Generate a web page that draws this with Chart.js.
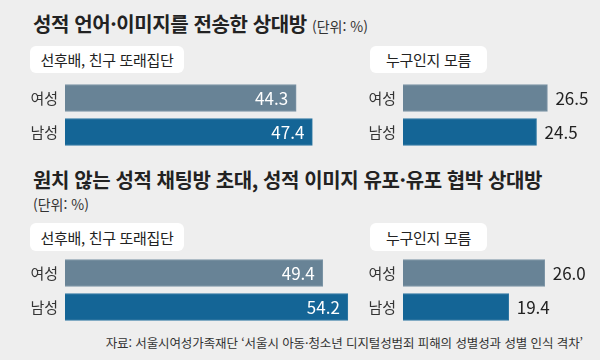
<!DOCTYPE html>
<html lang="ko">
<head>
<meta charset="utf-8">
<script src="https://cdn.jsdelivr.net/npm/chart.js@4.4.1/dist/chart.umd.min.js"></script>
<style>
  html, body { margin: 0; padding: 0; }
  body { width: 600px; height: 360px; background: #eeeeee; position: relative; overflow: hidden;
         font-family: "Noto Sans CJK KR", "Noto Sans", sans-serif; color: #222; }
  .abs { position: absolute; white-space: nowrap; }
  .title { font-size: 20px; font-weight: bold; letter-spacing: -0.4px; color: #222; }
  .unit { font-size: 14px; color: #333; letter-spacing: 0; }
  .pill { background: #fff; border-radius: 6px; font-size: 15px; color: #222;
          display: flex; align-items: center; justify-content: center; letter-spacing: -0.3px; }
  .src { font-size: 12.5px; color: #333; letter-spacing: -0.1px; }
  .box { position: absolute; height: 68px; }
</style>
</head>
<body>
<div class="abs title" style="left:33px; top:9px;">성적 언어·이미지를 전송한 상대방 <span class="unit" style="font-weight:normal;">(단위: %)</span></div>
<div class="abs pill" style="left:30px; top:46px; width:154px; height:27px;">선후배, 친구 또래집단</div>
<div class="abs pill" style="left:370px; top:46px; width:117px; height:27px;">누구인지 모름</div>

<div class="abs title" style="left:33px; top:165px;">원치 않는 성적 채팅방 초대, 성적 이미지 유포·유포 협박 상대방</div>
<div class="abs unit" style="left:33px; top:194px;">(단위: %)</div>
<div class="abs pill" style="left:30px; top:223px; width:154px; height:28px;">선후배, 친구 또래집단</div>
<div class="abs pill" style="left:370px; top:223px; width:117px; height:28px;">누구인지 모름</div>

<div class="abs src" style="right:17px; top:333px;">자료: 서울시여성가족재단 ‘서울시 아동·청소년 디지털성범죄 피해의 성별성과 성별 인식 격차’</div>

<div class="box" style="left:25px; top:81px; width:327px;"><canvas id="c1"></canvas></div>
<div class="box" style="left:363px; top:81px; width:237px;"><canvas id="c2"></canvas></div>
<div class="box" style="left:25px; top:256px; width:327px;"><canvas id="c3"></canvas></div>
<div class="box" style="left:363px; top:256px; width:237px;"><canvas id="c4"></canvas></div>

<script>
// 데이터
const genders = ['여성', '남성'];
const peerSent = [44.3, 47.4];       // 성적 언어·이미지 전송 - 또래집단
const unknownSent = [26.5, 24.5];    // 성적 언어·이미지 전송 - 누구인지 모름
const peerInvite = [49.4, 54.2];     // 채팅방 초대/유포 - 또래집단
const unknownInvite = [26.0, 19.4];  // 채팅방 초대/유포 - 누구인지 모름

const barColors = ['#688396', '#146596'];
const barBorders = ['#7d95a6', '#2f78a3'];

// 막대 끝에 값 표시
const valueLabels = {
    id: 'valueLabels',
    afterDatasetsDraw(chart, args, opts) {
        const ctx = chart.ctx;
        const meta = chart.getDatasetMeta(0);
        ctx.save();
        ctx.font = '17px "Noto Sans CJK KR", "Noto Sans", sans-serif';
        ctx.textBaseline = 'middle';
        meta.data.forEach((bar, i) => {
            const text = chart.data.datasets[0].data[i].toFixed(1);
            if (opts.inside) {
                ctx.fillStyle = '#ffffff';
                ctx.textAlign = 'right';
                ctx.fillText(text, bar.x - 8, bar.y + 1);
            } else {
                ctx.fillStyle = '#222222';
                ctx.textAlign = 'left';
                ctx.fillText(text, bar.x + 8, bar.y + 1);
            }
        });
        ctx.restore();
    }
};

function makeChart(id, values, max, inside, padRight) {
    return new Chart(document.getElementById(id).getContext('2d'), {
        type: 'bar',
        data: {
            labels: genders,
            datasets: [{
                data: values,
                backgroundColor: barColors,
                borderColor: barBorders,
                borderWidth: 1,
                borderSkipped: 'left',
                barThickness: 27
            }]
        },
        options: {
            indexAxis: 'y',
            responsive: true,
            maintainAspectRatio: false,
            animation: false,
            layout: { padding: { left: 0, right: padRight, top: 0, bottom: 0 } },
            plugins: {
                legend: { display: false },
                tooltip: { enabled: false },
                valueLabels: { inside: inside }
            },
            scales: {
                x: { display: false, min: 0, max: max },
                y: {
                    grid: { display: false, drawTicks: false },
                    border: { display: false },
                    ticks: {
                        color: '#333',
                        padding: 7,
                        font: { size: 15, family: '"Noto Sans CJK KR", "Noto Sans", sans-serif' }
                    },
                    afterFit(scale) {
                        scale.width = 40;
                        scale.paddingTop = 0;
                        scale.paddingBottom = 0;
                    }
                }
            }
        },
        plugins: [valueLabels]
    });
}

makeChart('c1', peerSent, 55, true, 0);
makeChart('c2', unknownSent, 30, false, 33.5);
makeChart('c3', peerInvite, 55, true, 0);
makeChart('c4', unknownInvite, 30, false, 33.5);
</script>
</body>
</html>
